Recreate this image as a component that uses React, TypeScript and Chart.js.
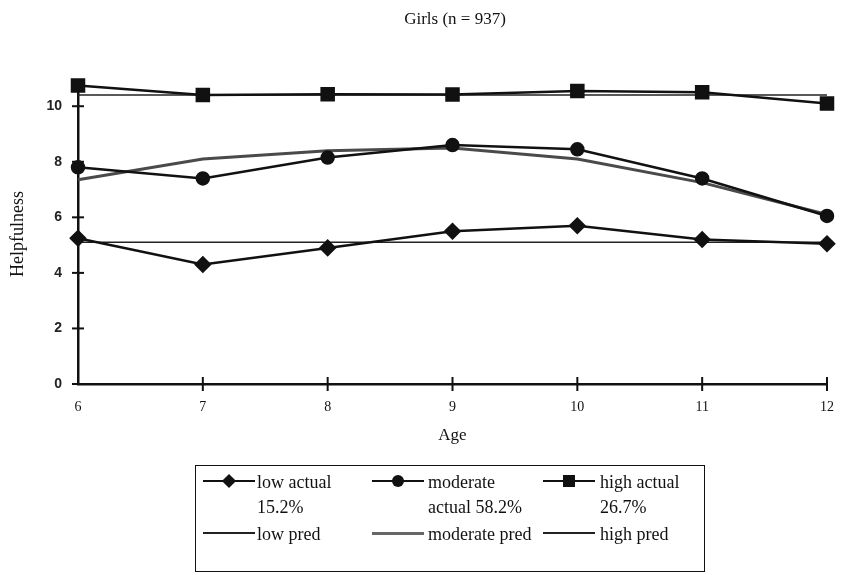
import React, { useEffect, useRef } from "react";
import { Chart, registerables } from "chart.js";

Chart.register(...registerables);

const ages = [6, 7, 8, 9, 10, 11, 12];
const lowActual = [5.25, 4.3, 4.9, 5.5, 5.7, 5.2, 5.05];
const lowPred = [5.1, 5.1, 5.1, 5.1, 5.1, 5.1, 5.1];
const moderateActual = [7.8, 7.4, 8.15, 8.6, 8.45, 7.4, 6.05];
const moderatePred = [7.35, 8.1, 8.4, 8.5, 8.1, 7.25, 6.1];
const highActual = [10.75, 10.4, 10.43, 10.42, 10.55, 10.5, 10.1];
const highPred = [10.4, 10.4, 10.4, 10.4, 10.4, 10.4, 10.4];

const chartTitle = "Girls (n = 937)";
const xTitle = "Age";
const yTitle = "Helpfulness";
const yTickValues = [0, 2, 4, 6, 8, 10];
const xTickValues = [7, 8, 9, 10, 11, 12];

const SERIF = "'Liberation Serif', 'Times New Roman', serif";
const SANS = "'Liberation Sans', Arial, sans-serif";

const toPts = (vals: number[]) => vals.map((v, i) => ({ x: ages[i], y: v }));

const crossTicks = {
  id: "crossTicks",
  afterDraw(chart: any) {
    const { ctx, scales } = chart;
    const xs = scales.x;
    const ys = scales.y;
    ctx.save();
    ctx.strokeStyle = "#111";
    ctx.lineWidth = 2;
    const ax = xs.left;
    yTickValues.forEach((v) => {
      const py = ys.getPixelForValue(v);
      ctx.beginPath();
      ctx.moveTo(ax - 6, py);
      ctx.lineTo(ax + 6, py);
      ctx.stroke();
    });
    const ay = ys.bottom;
    xTickValues.forEach((v) => {
      const px = xs.getPixelForValue(v);
      ctx.beginPath();
      ctx.moveTo(px, ay - 7);
      ctx.lineTo(px, ay + 7);
      ctx.stroke();
    });
    ctx.fillStyle = "#111";
    ctx.font = `17px ${SERIF}`;
    ctx.textAlign = "center";
    ctx.textBaseline = "middle";
    ctx.fillText(chartTitle, 455, 20);
    ctx.restore();
  },
};

function Sample({ marker, color = "#111", width = 2.5 }: { marker?: string; color?: string; width?: number }) {
  return (
    <div style={{ position: "relative", width: 52, height: 20, display: "inline-block" }}>
      <div
        style={{
          position: "absolute",
          left: 0,
          right: 0,
          top: 10 - width / 2,
          height: width,
          background: color,
        }}
      />
      {marker === "diamond" && (
        <div
          style={{
            position: "absolute",
            left: 21,
            top: 5,
            width: 10,
            height: 10,
            background: "#111",
            transform: "rotate(45deg)",
          }}
        />
      )}
      {marker === "circle" && (
        <div
          style={{
            position: "absolute",
            left: 20,
            top: 4,
            width: 12,
            height: 12,
            borderRadius: 6,
            background: "#111",
          }}
        />
      )}
      {marker === "square" && (
        <div
          style={{
            position: "absolute",
            left: 20,
            top: 4,
            width: 12,
            height: 12,
            background: "#111",
          }}
        />
      )}
    </div>
  );
}

export default function App() {
  const ref = useRef<HTMLCanvasElement>(null);

  useEffect(() => {
    if (!ref.current) return;
    const black = "#111";
    const chart = new Chart(ref.current, {
      type: "line",
      data: {
        datasets: [
          {
            label: "low actual 15.2%",
            data: toPts(lowActual),
            borderColor: black,
            backgroundColor: black,
            borderWidth: 2.5,
            pointStyle: "rectRot",
            pointRadius: 7,
            clip: false,
          },
          {
            label: "moderate actual 58.2%",
            data: toPts(moderateActual),
            borderColor: black,
            backgroundColor: black,
            borderWidth: 2.5,
            pointStyle: "circle",
            pointRadius: 6,
            clip: false,
          },
          {
            label: "high actual 26.7%",
            data: toPts(highActual),
            borderColor: black,
            backgroundColor: black,
            borderWidth: 2.5,
            pointStyle: "rect",
            pointRadius: 8.5,
            clip: false,
          },
          {
            label: "low pred",
            data: toPts(lowPred),
            borderColor: "#222",
            borderWidth: 1.5,
            pointRadius: 0,
            clip: false,
          },
          {
            label: "moderate pred",
            data: toPts(moderatePred),
            borderColor: "#4a4a4a",
            borderWidth: 3,
            pointRadius: 0,
            clip: false,
          },
          {
            label: "high pred",
            data: toPts(highPred),
            borderColor: "#222",
            borderWidth: 1.5,
            pointRadius: 0,
            clip: false,
          },
        ],
      },
      options: {
        responsive: false,
        animation: false,
        layout: { padding: { top: 84, bottom: 129, left: 0, right: 14 } },
        plugins: { legend: { display: false }, tooltip: { enabled: false }, title: { display: false } },
        scales: {
          x: {
            type: "linear",
            min: 6,
            max: 12,
            afterFit: (s: any) => {
              s.height = 62;
              s.paddingRight = 0;
              s.paddingLeft = 0;
            },
            ticks: {
              stepSize: 1,
              padding: 15,
              color: black,
              font: { family: SERIF, size: 14 },
            },
            grid: { display: true, drawOnChartArea: false, drawTicks: false },
            border: { display: true, color: black, width: 2.5 },
            title: {
              display: true,
              text: xTitle,
              color: black,
              font: { family: SERIF, size: 17 },
              padding: { top: 0, bottom: 0 },
            },
          },
          y: {
            min: 0,
            max: 10.8,
            afterFit: (s: any) => {
              s.width = 78;
              s.paddingTop = 0;
              s.paddingBottom = 0;
            },
            ticks: {
              stepSize: 2,
              includeBounds: false,
              padding: 16,
              color: "#222",
              font: { family: SANS, size: 14, weight: "bold" },
            },
            grid: { display: true, drawOnChartArea: false, drawTicks: false },
            border: { display: true, color: black, width: 2.5 },
            title: {
              display: true,
              text: yTitle,
              color: black,
              font: { family: SERIF, size: 18 },
              padding: { top: 7, bottom: 0 },
            },
          },
        },
      },
      plugins: [crossTicks],
    });
    return () => chart.destroy();
  }, []);

  const legendText: React.CSSProperties = {
    fontFamily: SERIF,
    fontSize: 18,
    lineHeight: "25px",
    color: "#111",
    position: "absolute",
  };

  return (
    <div style={{ position: "absolute", left: 0, top: 0, width: 841, height: 575, background: "#fff" }}>
      <canvas ref={ref} width={841} height={575} style={{ position: "absolute", left: 0, top: 0 }} />
      <div
        style={{
          position: "absolute",
          left: 195,
          top: 465,
          width: 510,
          height: 107,
          border: "1.5px solid #111",
          boxSizing: "border-box",
        }}
      >
        <div style={{ ...legendText, left: 7, top: 5 }}>
          <Sample marker="diamond" />
        </div>
        <div style={{ ...legendText, left: 61, top: 4 }}>
          low actual
          <br />
          15.2%
        </div>
        <div style={{ ...legendText, left: 176, top: 5 }}>
          <Sample marker="circle" />
        </div>
        <div style={{ ...legendText, left: 232, top: 4 }}>
          moderate
          <br />
          actual 58.2%
        </div>
        <div style={{ ...legendText, left: 347, top: 5 }}>
          <Sample marker="square" />
        </div>
        <div style={{ ...legendText, left: 404, top: 4 }}>
          high actual
          <br />
          26.7%
        </div>
        <div style={{ ...legendText, left: 7, top: 57 }}>
          <Sample color="#222" width={1.5} />
        </div>
        <div style={{ ...legendText, left: 61, top: 56 }}>low pred</div>
        <div style={{ ...legendText, left: 176, top: 57 }}>
          <Sample color="#666" width={3} />
        </div>
        <div style={{ ...legendText, left: 232, top: 56 }}>moderate pred</div>
        <div style={{ ...legendText, left: 347, top: 57 }}>
          <Sample color="#222" width={1.5} />
        </div>
        <div style={{ ...legendText, left: 404, top: 56 }}>high pred</div>
      </div>
    </div>
  );
}
